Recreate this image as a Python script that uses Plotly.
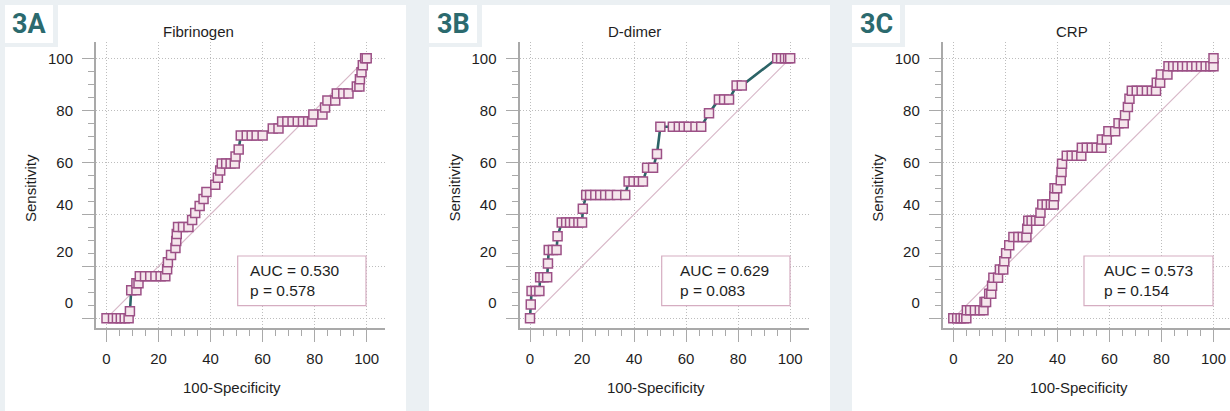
import plotly.graph_objects as go

W, H = 1230, 411

# ---------------- data ----------------
panel_labels = ["3A", "3B", "3C"]
titles = ["Fibrinogen", "D-dimer", "CRP"]
auc_text = ["AUC = 0.530", "AUC = 0.629", "AUC = 0.573"]
p_text = ["p = 0.578", "p = 0.083", "p = 0.154"]
x_ticks = [0, 20, 40, 60, 80, 100]
y_tick_labels = ["0", "20", "40", "60", "80", "100"]
diag_x = [0, 100]
diag_y = [0, 100]

fib_fpr = [0, 2.5, 4, 5.5, 7, 8.5,
           9,
           9.5, 11.5,
           11.5, 12.3,
           12.8, 14.8, 16.8, 18.8, 20.8, 22.6,
           23.3, 23.6, 24.8, 26.5, 26.8, 27.0,
           27.5, 29.4, 31.5,
           32.9, 34.1, 35.8, 37.3, 38.4, 41.8, 42.8, 43.7,
           44.3, 46.0, 47.7, 49.3,
           49.6, 50.8,
           51.6, 53.9, 55.8, 57.7, 60.0,
           63.9, 66.1,
           67.5, 69.5, 71.5, 73.5, 75.5, 77.5, 79.0,
           79.5, 83.0,
           84.0,
           84.9, 87.9,
           88.5, 91.0, 93.0,
           96.2, 97.2,
           97.4, 98.0, 98.5,
           99.4, 100]
fib_sens = [0, 0, 0, 0, 0, 0,
            2.7,
            10.8, 10.8,
            13.5, 13.5,
            16.2, 16.2, 16.2, 16.2, 16.2, 16.2,
            18.9, 21.6, 24.3, 27.0, 29.7, 32.4,
            35.1, 35.1, 35.1,
            37.8, 40.5, 43.2, 45.9, 48.6, 51.4, 54.1, 56.8,
            59.5, 59.5, 59.5, 59.5,
            62.2, 64.9,
            70.3, 70.3, 70.3, 70.3, 70.3,
            73.0, 73.0,
            75.7, 75.7, 75.7, 75.7, 75.7, 75.7, 75.7,
            78.4, 78.4,
            81.1,
            83.8, 83.8,
            86.5, 86.5, 86.5,
            89.2, 89.2,
            91.9, 94.6, 97.3,
            100, 100]

dd_fpr = [0,
          0.3,
          0.6, 2.2, 3.6,
          3.9, 5.2, 6.6,
          6.9,
          7.2, 8.8, 10.2,
          10.6,
          12.2, 13.9, 15.4, 16.9, 18.6, 20.0,
          20.3,
          21.6, 23.1, 25.1, 27.0, 28.9, 30.8, 33.4, 36.6,
          37.9, 39.8, 41.8, 43.4,
          45.0, 47.3,
          48.8,
          50.1, 54.9, 57.2, 59.1, 61.0, 63.6, 65.8,
          68.8,
          72.6, 74.6, 76.5,
          79.4, 81.4,
          95.0, 96.5, 98.0, 99.2, 100]
dd_sens = [0,
           5.3,
           10.5, 10.5, 10.5,
           15.8, 15.8, 15.8,
           21.1,
           26.3, 26.3, 26.3,
           31.6,
           36.8, 36.8, 36.8, 36.8, 36.8, 36.8,
           42.1,
           47.4, 47.4, 47.4, 47.4, 47.4, 47.4, 47.4, 47.4,
           52.6, 52.6, 52.6, 52.6,
           57.9, 57.9,
           63.2,
           73.7, 73.7, 73.7, 73.7, 73.7, 73.7, 73.7,
           78.9,
           84.2, 84.2, 84.2,
           89.5, 89.5,
           100, 100, 100, 100, 100]

crp_fpr = [0, 1.5, 2.8, 4.0, 5.0,
           5.2, 6.5, 8.3, 10.2, 11.6,
           12.0, 12.6,
           13.8, 14.6,
           14.9,
           15.4, 17.2,
           17.9, 19.2,
           19.6, 20.3, 21.5,
           23.1, 25.0, 26.7, 28.1,
           28.4,
           28.8, 30.1, 31.8, 33.1,
           33.5,
           34.2, 35.9, 37.5, 38.6,
           38.8,
           38.9, 39.9,
           41.3, 41.6, 41.8,
           43.6, 45.5, 47.4, 49.2,
           49.4, 51.3, 53.2, 55.1, 56.9,
           57.1, 59.0,
           59.6, 62.2,
           63.5, 65.5,
           66.0, 67.1, 67.7,
           68.6, 70.5, 72.4, 74.4, 76.3, 77.9,
           78.2, 79.5,
           79.8, 82.3,
           82.7, 84.5, 86.2, 88.0, 89.8, 91.6, 93.4, 95.2, 97.0, 98.8, 100,
           100]
crp_sens = [0, 0, 0, 0, 0,
            3.1, 3.1, 3.1, 3.1, 3.1,
            6.3, 6.3,
            9.4, 9.4,
            12.5,
            15.6, 15.6,
            18.8, 18.8,
            21.9, 25.0, 28.1,
            31.3, 31.3, 31.3, 31.3,
            34.4,
            37.5, 37.5, 37.5, 37.5,
            40.6,
            43.8, 43.8, 43.8, 43.8,
            46.9,
            50.0, 50.0,
            53.1, 56.3, 59.4,
            62.5, 62.5, 62.5, 62.5,
            65.6, 65.6, 65.6, 65.6, 65.6,
            68.8, 68.8,
            71.9, 71.9,
            75.0, 75.0,
            78.1, 81.3, 84.4,
            87.5, 87.5, 87.5, 87.5, 87.5, 87.5,
            90.6, 90.6,
            93.8, 93.8,
            96.9, 96.9, 96.9, 96.9, 96.9, 96.9, 96.9, 96.9, 96.9, 96.9, 96.9,
            100]

curves = [(fib_fpr, fib_sens), (dd_fpr, dd_sens), (crp_fpr, crp_sens)]

# ---------------- styling / layout geometry ----------------
BG = "#ebf0f3"
TEAL = "#2c6467"
MARK_FILL = "#f5e6ec"
MARK_LINE = "#9c5086"
DIAG = "#d8b8c8"
AXIS = "#a9a9a9"
GRID = "#bdbdbd"
TXT = "#1e1e1e"
FONT = "Liberation Sans, Arial, sans-serif"

def px(x):
    return x / W

def py(y):
    return 1 - y / H

zero_px = [106.5, 530.0, 953.3]   # pixel of x = 0 in each panel
SC = 2.602                        # pixels per unit
Y0, YSC = 318.3, 2.6
plot_top, plot_bot = 42, 328
panel_left = [5, 429, 852]
panel_right = [406, 830, 1230]
title_cx = [198, 634, 1072]
auc_box = [(237.7, 366.0), (661.7, 790.0), (1084.0, 1213.0)]
auc_txt_x = [248, 677.7, 1101.7]
ylab_pos = [6, 25.5, 43.5, 60, 80, 100]

fig = go.Figure()
shapes, annotations = [], []
layout = {}

minor_vals = [v for v in range(0, 101, 5) if v % 20 != 0]

for i in range(3):
    xs = "" if i == 0 else str(i + 1)
    ls = str(i + 4)
    fpr, sens = curves[i]
    fig.add_trace(go.Scatter(x=diag_x, y=diag_y, mode="lines",
                             line=dict(color=DIAG, width=1.2),
                             xaxis="x" + xs, yaxis="y" + xs,
                             showlegend=False, hoverinfo="skip"))
    fig.add_trace(go.Scatter(x=fpr, y=sens, mode="lines+markers",
                             line=dict(color=TEAL, width=2.6),
                             marker=dict(symbol="square", size=9, color=MARK_FILL,
                                         line=dict(color=MARK_LINE, width=1.5)),
                             xaxis="x" + xs, yaxis="y" + xs,
                             showlegend=False))
    # empty trace so the label-only overlay axis gets drawn
    fig.add_trace(go.Scatter(x=[None], y=[None], mode="markers",
                             xaxis="x" + xs, yaxis="y" + ls,
                             showlegend=False, hoverinfo="skip"))

    left = zero_px[i] - 10.5
    right = min(zero_px[i] + 278.5, W)
    xr = [(left - zero_px[i]) / SC, (right - zero_px[i]) / SC]
    yr = [(Y0 - plot_bot) / YSC, (Y0 - plot_top) / YSC]

    common = dict(showline=True, linecolor=AXIS, linewidth=1.5,
                  ticks="outside", ticklen=12, tickwidth=1, tickcolor=AXIS,
                  showgrid=True, gridcolor=GRID, griddash="1px,2px", gridwidth=1,
                  zeroline=False, tickfont=dict(size=15, color=TXT, family=FONT),
                  tickmode="array", tickvals=x_ticks,
                  minor=dict(tickmode="array", tickvals=minor_vals, ticks="outside",
                             ticklen=6, tickwidth=1, tickcolor=AXIS, showgrid=False),
                  fixedrange=True)

    layout["xaxis" + xs] = dict(common, domain=[px(left), px(right)], range=xr,
                                anchor="y" + xs, ticklabelstandoff=4)
    layout["yaxis" + xs] = dict(common, domain=[py(plot_bot), py(plot_top)], range=yr,
                                anchor="x" + xs, showticklabels=False)
    # label-only axis carrying the y tick texts where the picture shows them
    layout["yaxis" + ls] = dict(overlaying="y" + xs, anchor="x" + xs, side="left",
                                range=yr, showgrid=False, showline=False,
                                zeroline=False, ticks="outside", ticklen=12,
                                tickcolor="rgba(0,0,0,0)",
                                tickmode="array", tickvals=ylab_pos,
                                ticktext=y_tick_labels, ticklabelstandoff=7,
                                tickfont=dict(size=15, color=TXT, family=FONT),
                                fixedrange=True)

    # white panel backgrounds
    shapes.append(dict(type="rect", xref="paper", yref="paper", layer="below",
                       x0=px(panel_left[i]), x1=px(panel_right[i]),
                       y0=py(411), y1=py(47), fillcolor="white", line=dict(width=0)))
    shapes.append(dict(type="rect", xref="paper", yref="paper", layer="below",
                       x0=px(panel_left[i] + 53), x1=px(panel_right[i]),
                       y0=py(411), y1=py(5), fillcolor="white", line=dict(width=0)))
    shapes.append(dict(type="rect", xref="paper", yref="paper", layer="below",
                       x0=px(panel_left[i]), x1=px(panel_left[i] + 48),
                       y0=py(43), y1=py(5), fillcolor="white", line=dict(width=0)))
    # AUC box
    bx0, bx1 = auc_box[i]
    shapes.append(dict(type="rect", xref="paper", yref="paper", layer="above",
                       x0=px(bx0), x1=px(bx1), y0=py(305.7), y1=py(256),
                       fillcolor="white", line=dict(color="#d5adc1", width=1.2)))

    annotations += [
        dict(text=panel_labels[i], x=px(panel_left[i] + 24), y=py(24.5),
             font=dict(size=27, color="#2b6a6e", family="Roboto, sans-serif", weight="bold")),
        dict(text=titles[i], x=px(title_cx[i]), y=py(31),
             font=dict(size=15, color=TXT, family=FONT)),
        dict(text="Sensitivity", x=px(zero_px[i] - 76.5), y=py(188), textangle=-90,
             font=dict(size=15, color=TXT, family=FONT)),
        dict(text="100-Specificity", x=px(zero_px[i] + 125.5), y=py(387),
             font=dict(size=15, color=TXT, family=FONT)),
        dict(text=auc_text[i], x=px(auc_txt_x[i]), y=py(270), xanchor="left",
             font=dict(size=15.5, color=TXT, family=FONT)),
        dict(text=p_text[i], x=px(auc_txt_x[i]), y=py(290), xanchor="left",
             font=dict(size=15.5, color=TXT, family=FONT)),
    ]

for a in annotations:
    a.setdefault("xanchor", "center")
    a.update(xref="paper", yref="paper", yanchor="middle", showarrow=False)

fig.update_layout(
    width=W, height=H, margin=dict(l=0, r=0, t=0, b=0),
    paper_bgcolor=BG, plot_bgcolor="white",
    font=dict(family=FONT, size=15, color=TXT),
    shapes=shapes, annotations=annotations, showlegend=False,
    **layout,
)

fig.write_html("out.html")
